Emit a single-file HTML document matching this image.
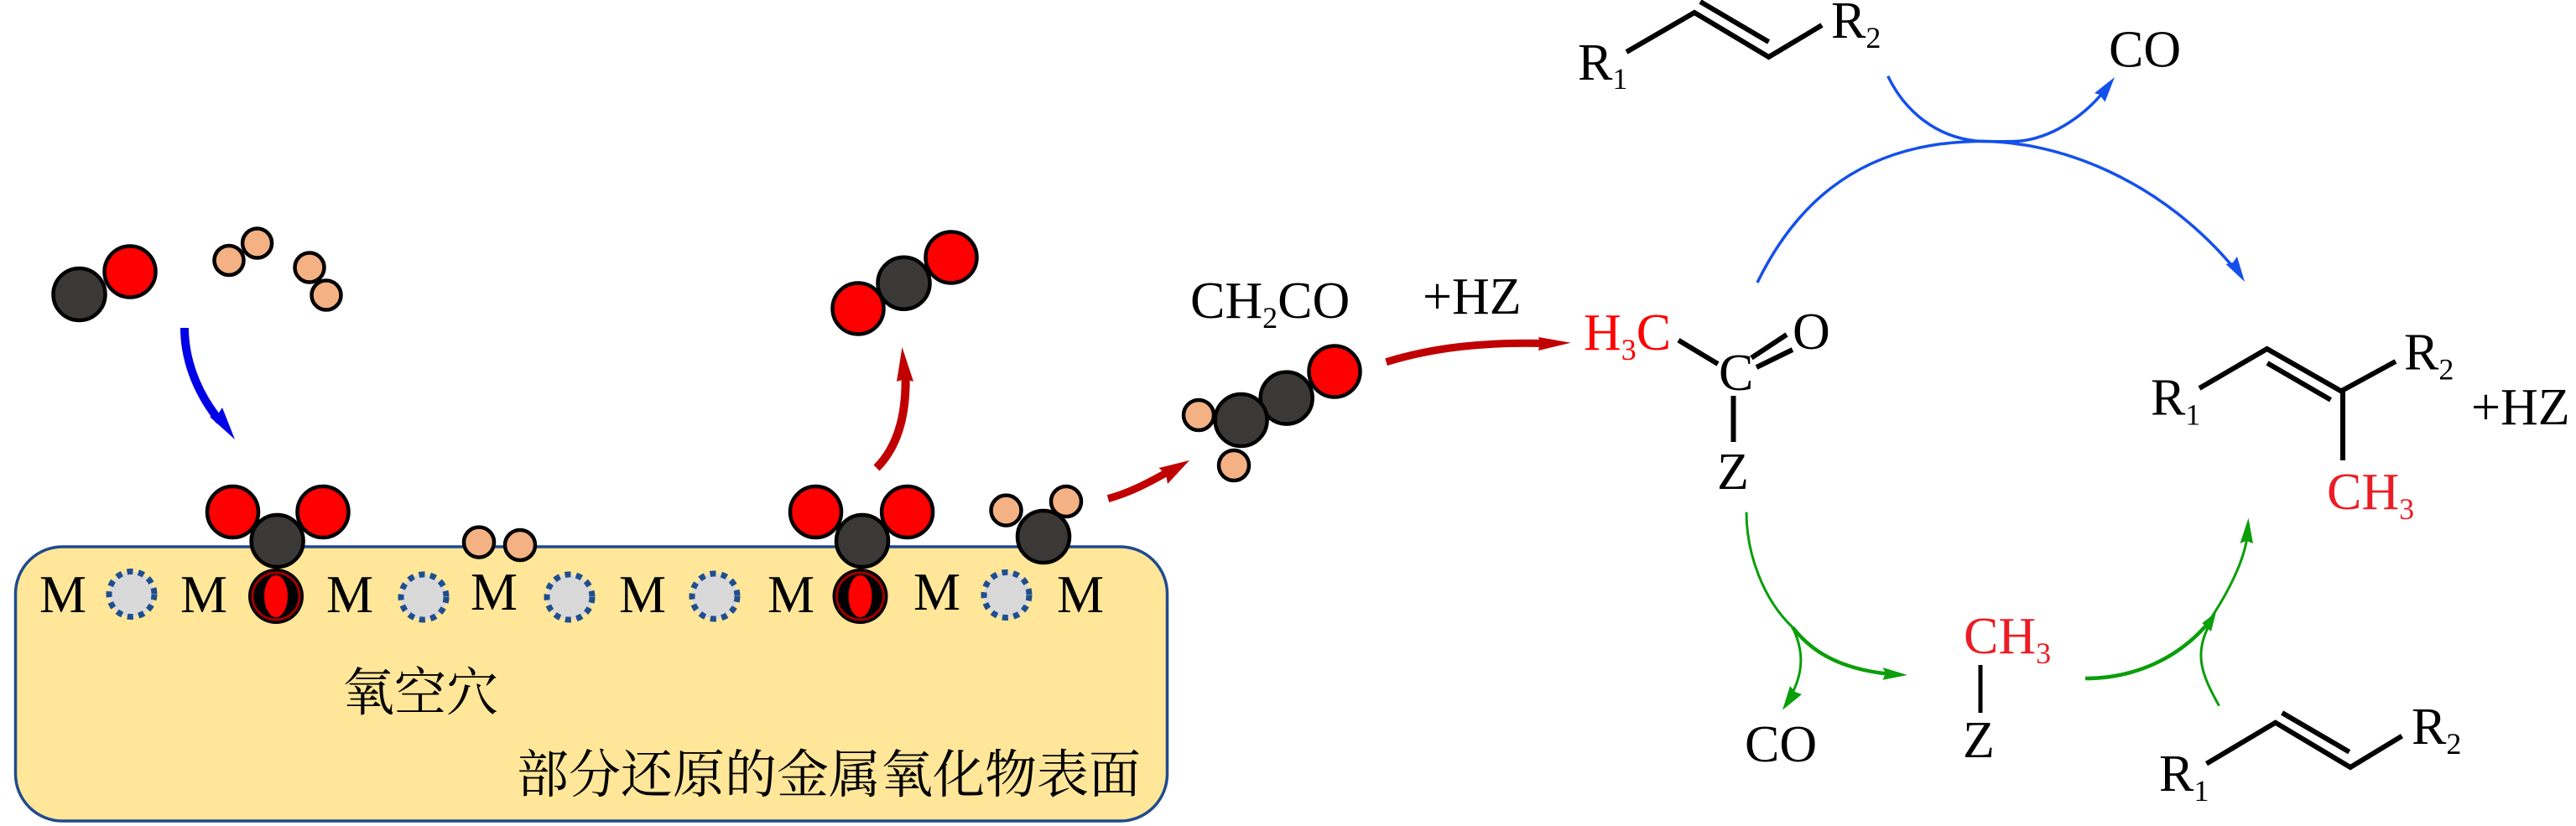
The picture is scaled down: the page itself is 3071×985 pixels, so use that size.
<!DOCTYPE html>
<html lang="zh"><head><meta charset="utf-8"><title>Diagram</title>
<style>
html,body{margin:0;padding:0;background:#fff;width:3071px;height:985px;overflow:hidden}
svg{display:block}
text{font-family:"Liberation Serif","Noto Serif CJK SC",serif;font-size:62px;fill:#000}
.s{font-size:36px}
.m{font-size:63px}
.r{fill:#f00}
.r2{fill:#ec1c24}
.cn{font-family:"Liberation Serif","Noto Serif CJK SC",serif;font-size:62px}
.C{fill:#3b3838;stroke:#000;stroke-width:4.500}
.O{fill:#f00;stroke:#000;stroke-width:4.500}
.H{fill:#f4b183;stroke:#000;stroke-width:4.500}
.V{fill:#d9d9d9;stroke:#1f4e8f;stroke-width:7;stroke-dasharray:7 6.500}
.b{fill:none;stroke:#000;stroke-width:6}
.bl{fill:none;stroke:#1450ea;stroke-width:3.500}
.g{fill:none;stroke:#0a9e0a;stroke-width:3}
</style></head><body>
<svg width="3071" height="985" viewBox="0 0 3071 985" xmlns="http://www.w3.org/2000/svg">
<defs>
<g id="hole"><circle r="33" fill="#000"/><circle r="28" fill="none" stroke="#a00000" stroke-width="3"/><ellipse rx="14" ry="25" fill="#f00"/></g>
</defs>

<!-- surface -->
<rect x="18.500" y="652" width="1373" height="327" rx="56" ry="56" fill="#ffe699" stroke="#1f4a8f" stroke-width="3.500"/>

<!-- gas molecules -->
<circle class="C" cx="94.500" cy="351" r="31"/>
<circle class="O" cx="155" cy="324" r="30.500"/>
<circle class="H" cx="273" cy="310.500" r="17.500"/>
<circle class="H" cx="306.600" cy="290" r="17.500"/>
<circle class="H" cx="369" cy="319" r="17.500"/>
<circle class="H" cx="389" cy="352" r="17.500"/>

<!-- blue arrow -->
<path d="M220 391C220 425 232 465 262 502" fill="none" stroke="#0000e6" stroke-width="10"/>
<polygon points="280,524 250,497 259,495 265,486" fill="#0000e6"/>

<!-- adsorbed 1 -->
<circle class="O" cx="277.500" cy="610.500" r="30.500"/>
<circle class="O" cx="385" cy="610.500" r="30.500"/>
<circle class="C" cx="330.600" cy="645" r="31"/>
<use href="#hole" x="329" y="711"/>

<!-- H2 adsorbed -->
<circle class="H" cx="571" cy="646.600" r="18"/>
<circle class="H" cx="620" cy="650" r="18"/>

<!-- vacancies -->
<circle class="V" cx="157" cy="708.500" r="27"/>
<circle class="V" cx="505" cy="712" r="27"/>
<circle class="V" cx="679" cy="712" r="27"/>
<circle class="V" cx="852" cy="711" r="27"/>
<circle class="V" cx="1200" cy="709.500" r="27"/>

<!-- M labels -->
<text class="m" x="47" y="730">M</text>
<text class="m" x="215" y="730">M</text>
<text class="m" x="389" y="730">M</text>
<text class="m" x="561" y="727">M</text>
<text class="m" x="738" y="730">M</text>
<text class="m" x="915" y="730">M</text>
<text class="m" x="1089" y="727">M</text>
<text class="m" x="1260" y="730">M</text>

<text class="cn" x="408" y="847">氧空穴</text>
<text class="cn" x="616" y="945">部分还原的金属氧化物表面</text>

<!-- CO2 gas -->
<circle class="O" cx="1023" cy="368" r="30.500"/>
<circle class="C" cx="1077.500" cy="337.700" r="31"/>
<circle class="O" cx="1134" cy="307" r="30.500"/>

<!-- dark red up arrow -->
<path d="M1045 558C1068 535 1080 500 1079.600 452" fill="none" stroke="#c00000" stroke-width="10"/>
<polygon points="1075.500,414 1089,455 1079,452 1069,455" fill="#c00000"/>

<!-- adsorbed 2 -->
<circle class="O" cx="972.500" cy="610.500" r="30.500"/>
<circle class="O" cx="1081.600" cy="610.500" r="30.500"/>
<circle class="C" cx="1028" cy="645" r="31"/>
<use href="#hole" x="1025.500" y="711"/>

<!-- CH2 adsorbed -->
<circle class="H" cx="1199.500" cy="608.600" r="18"/>
<circle class="H" cx="1271" cy="598" r="18"/>
<circle class="C" cx="1244" cy="640" r="31"/>

<!-- arrow to CH2CO -->
<path d="M1321 594.600C1345 588 1365 578 1390 564" fill="none" stroke="#c00000" stroke-width="9"/>
<polygon points="1418,549 1392,577 1390,566 1381.600,558" fill="#c00000"/>

<!-- CH2CO molecule -->
<circle class="H" cx="1429" cy="495" r="18"/>
<circle class="H" cx="1471" cy="555" r="18"/>
<circle class="O" cx="1591" cy="443" r="30.500"/>
<circle class="C" cx="1533.700" cy="474.600" r="31"/>
<circle class="C" cx="1479.600" cy="501" r="31"/>
<text x="1419" y="379">CH<tspan class="s" dy="12">2</tspan><tspan dy="-12">CO</tspan></text>

<!-- +HZ arrow -->
<text x="1696" y="374">+HZ</text>
<path d="M1652.600 431.700C1710 414 1770 408 1840 409.500" fill="none" stroke="#c00000" stroke-width="9"/>
<polygon points="1872.700,408.700 1834,418 1836,409 1834,402" fill="#c00000"/>

<!-- acetyl -->
<text class="r" x="1888" y="417">H<tspan class="s" dy="12">3</tspan><tspan dy="-12">C</tspan></text>
<text x="2049" y="465">C</text>
<text x="2137" y="416">O</text>
<text x="2047" y="583">Z</text>
<path class="b" d="M2001 405.700L2048 434M2088 426.700L2130 399M2094 438L2137 417M2066.500 472V527"/>

<!-- top alkene -->
<text x="1881" y="95">R<tspan class="s" dy="11">1</tspan></text>
<text x="2183" y="45">R<tspan class="s" dy="12">2</tspan></text>
<path class="b" d="M1939 62L2020 15L2108.600 68L2172 30M2027 2L2108.600 50"/>

<!-- blue arcs -->
<path class="bl" d="M2250.700 90.700C2272 135 2310 163 2355 168C2375 169 2395 169 2410 168C2450 163 2490 135 2515 100"/>
<polygon points="2521,92 2509.500,121.500 2503,113 2497,111" fill="#1450ea"/>
<path class="bl" d="M2095 337C2135 255 2205 175 2345 169C2450 163 2580 215 2670 328"/>
<polygon points="2676,336 2653.500,315 2662,313 2667,306" fill="#1450ea"/>
<text x="2514" y="79.600">CO</text>

<!-- product alkene -->
<text x="2564" y="494.600">R<tspan class="s" dy="12">1</tspan></text>
<text x="2866" y="440.700">R<tspan class="s" dy="12">2</tspan></text>
<text x="2946" y="505.800">+HZ</text>
<path class="b" d="M2622 463L2702.600 416L2791 466.400L2856 431M2703 433L2778.500 476.800M2793 466V549"/>
<text class="r2" x="2774" y="607">CH<tspan class="s" dy="12">3</tspan></text>

<!-- green arrows -->
<path class="g" d="M2082 610.700C2082 660 2102 715 2137 748"/>
<path class="g" d="M2137 748C2158 775 2190 797 2250 803.500" style="stroke-width:4.500"/>
<polygon points="2274,805 2244.500,810.700 2248,803 2244.500,796" fill="#0a9e0a"/>
<path class="g" d="M2137 748C2150 775 2151 800 2135 830"/>
<polygon points="2125,846.700 2134,818 2140,825 2148,828" fill="#0a9e0a"/>
<text x="2080" y="908">CO</text>
<text class="r2" x="2341" y="779">CH<tspan class="s" dy="12">3</tspan></text>
<path class="b" d="M2361 793V850" style="stroke-width:5"/>
<text x="2340" y="903">Z</text>
<path class="g" d="M2486 809C2545 809 2595 785 2629 747" style="stroke-width:4.500"/>
<path class="g" d="M2629 747C2655 710 2675 670 2679 640"/>
<polygon points="2680.500,617.700 2686,648 2678,645 2670.500,648" fill="#0a9e0a"/>
<path class="g" d="M2645.500 841.700C2625 805 2615 780 2634 745"/>
<polygon points="2642,730 2636,753 2630,748 2625.500,743" fill="#0a9e0a"/>

<!-- bottom alkene -->
<text x="2574" y="943">R<tspan class="s" dy="12">1</tspan></text>
<text x="2875" y="887">R<tspan class="s" dy="12">2</tspan></text>
<path class="b" d="M2630.500 910.700L2712.700 861.700L2802 915L2863.500 877.700M2720.600 850L2800.700 896.700"/>
</svg>
</body></html>
